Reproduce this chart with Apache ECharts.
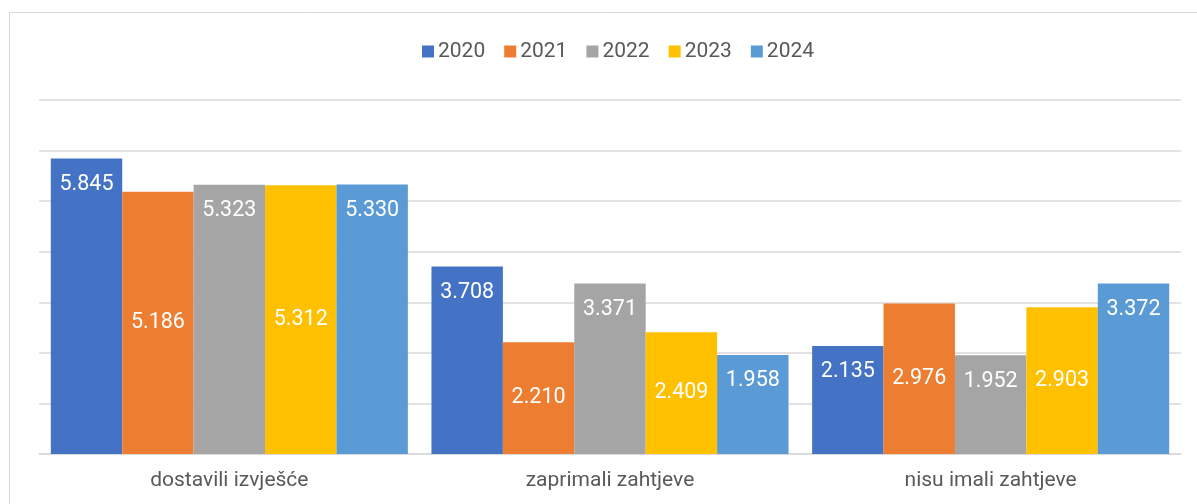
<!DOCTYPE html>
<html><head><meta charset="utf-8">
<script src="https://cdn.jsdelivr.net/npm/echarts@6/dist/echarts.min.js"></script>
<style>html,body{margin:0;padding:0;background:#fff}#c{width:1197px;height:504px}</style>
</head><body><div id="c"></div>
<script>
const categories = ['dostavili izvješće', 'zaprimali zahtjeve', 'nisu imali zahtjeve'];
const years = ['2020', '2021', '2022', '2023', '2024'];
const colors = ['#4472C4', '#ED7D31', '#A5A5A5', '#FFC000', '#5B9BD5'];
const v2020 = [5845, 3708, 2135];
const v2021 = [5186, 2210, 2976];
const v2022 = [5323, 3371, 1952];
const v2023 = [5312, 2409, 2903];
const v2024 = [5330, 1958, 3372];
const allValues = [v2020, v2021, v2022, v2023, v2024];
const labelPos = ['insideTop', 'inside', 'insideTop', 'inside', 'insideTop'];

const fmt = v => { const s = String(v); return s.length > 3 ? s.slice(0, s.length - 3) + '.' + s.slice(-3) : s; };

const chart = echarts.init(document.getElementById('c'));
chart.setOption({
  animation: false,
  textStyle: { fontFamily: 'Roboto' },
  graphic: [{ type: 'rect', shape: { x: 9.5, y: 12.5, width: 1300, height: 600 }, style: { fill: 'none', stroke: '#d9d9d9', lineWidth: 1 }, silent: true, z: -1 }],
  legend: {
    top: 36, left: 417, itemWidth: 12, itemHeight: 12, itemGap: 19,
    icon: 'rect',
    textStyle: { color: '#595959', fontSize: 21, fontFamily: 'Roboto', padding: [0, 0, 0, -1] },
    data: years
  },
  grid: { left: 39, right: 16, top: 100, bottom: 50, containLabel: false },
  xAxis: {
    type: 'category', data: categories,
    axisLine: { lineStyle: { color: '#d9d9d9', width: 1.5 } },
    axisTick: { show: false },
    axisLabel: { color: '#595959', fontSize: 21, margin: 16, fontFamily: 'Roboto' }
  },
  yAxis: {
    type: 'value', min: 0, max: 7000, interval: 1000,
    axisLabel: { show: false }, axisLine: { show: false }, axisTick: { show: false },
    splitLine: { lineStyle: { color: '#d9d9d9', width: 1.5 } }
  },
  series: years.map((y, i) => ({
    name: y, type: 'bar', data: allValues[i],
    barGap: '0%', barCategoryGap: '6.2%',
    itemStyle: { color: colors[i] },
    label: {
      show: true, position: labelPos[i], distance: 15,
      color: '#ffffff', fontSize: 21.5, fontFamily: 'Roboto',
      formatter: p => fmt(p.value)
    }
  }))
});
</script></body></html>
